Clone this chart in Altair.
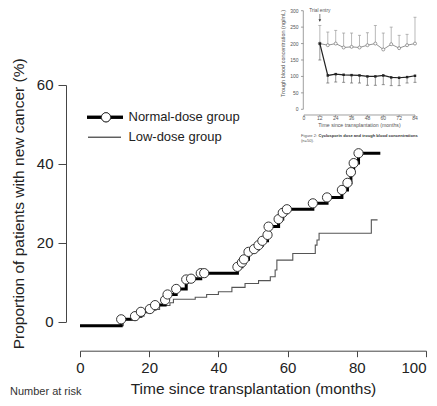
import altair as alt
import pandas as pd

# ---------------- main chart data (months, % with new cancer) ----------------
normal_x = [0, 11.9, 15.9, 17.6, 20.2, 21.7, 24.6, 25.3, 27.8, 30.7, 32.1, 34.9, 35.9,
            45.5, 46.8, 47.4, 48.7, 50.3, 51.6, 52.7, 54.2, 54.5, 57.4, 58.6, 59.8,
            67.3, 71.4, 75.7, 77.3, 78.3, 79.1, 80.5, 86.8]
normal_y = [-1, 0.6, 1.4, 2.5, 3.2, 4.2, 5.5, 6.9, 8.3, 10.7, 10.9, 12.3, 12.3,
            13.9, 15.0, 15.8, 17.7, 18.4, 19.4, 20.5, 22.0, 24.1, 26.0, 27.6, 28.5,
            30.0, 31.5, 33.4, 35.2, 37.9, 40.2, 42.7, 42.7]
low_x = [0, 12.5, 16.5, 18.5, 21.0, 23.0, 26.0, 27.0, 33.3, 36.6, 40.0, 43.9, 47.7,
         51.6, 55.0, 56.4, 56.9, 61.5, 68.0, 68.5, 69.1, 84.2, 86.0]
low_y = [-1, 0.5, 1.4, 2.4, 3.1, 4.1, 4.8, 5.7, 6.2, 6.9, 7.6, 8.7, 9.7,
         10.4, 11.4, 13.1, 15.6, 17.3, 19.4, 20.7, 22.4, 25.8, 25.8]
x_ticks = [0, 20, 40, 60, 80, 100]
y_ticks = [0, 20, 40, 60]
legend_labels = ["Normal-dose group", "Low-dose group"]

# ---------------- inset figure data (trough concentrations, ng/mL) ----------------
inset_months = [12, 18, 24, 30, 36, 42, 48, 54, 60, 66, 72, 78, 84]
normal_conc = [200, 195, 200, 188, 190, 188, 195, 200, 182, 198, 186, 195, 200]
normal_upper = [255, 235, 240, 232, 232, 225, 233, 255, 232, 250, 225, 228, 280]
low_conc = [200, 103, 107, 105, 104, 103, 100, 100, 103, 97, 96, 98, 102]
low_lower = [150, 80, 83, 82, 80, 80, 73, 73, 75, 72, 72, 80, 82]
inset_x_ticks = [0, 12, 24, 36, 48, 60, 72, 84]
inset_y_ticks = [0, 50, 100, 150, 200, 250, 300]
trial_entry_month = [12]

FONT = "Liberation Sans"

normal_df = pd.DataFrame({"t": normal_x, "p": normal_y})
circle_df = normal_df.iloc[1:-1]
low_df = pd.DataFrame({"t": low_x, "p": low_y})

xs = alt.Scale(domain=[0, 100], nice=False, zero=False)
ys = alt.Scale(domain=[0, 60], nice=False, zero=False)
x_axis = alt.Axis(values=x_ticks, offset=29, tickSize=6, labelPadding=4,
                  title="Time since transplantation (months)", titlePadding=6,
                  labelFontSize=15, titleFontSize=15.5, grid=False,
                  labelFlush=False, labelOverlap=False,
                  labelAlign=alt.expr("datum.value == 100 ? 'right' : 'center'"))
y_axis = alt.Axis(values=y_ticks, offset=14, tickSize=8, labelPadding=5,
                  title="Proportion of patients with new cancer (%)", titlePadding=10,
                  labelFontSize=15, titleFontSize=15.5, grid=False, labelFlush=False)
X = alt.X("t:Q", scale=xs, axis=x_axis)
Y = alt.Y("p:Q", scale=ys, axis=y_axis)

low_line = alt.Chart(low_df).mark_line(interpolate="step-after", color="#555555",
                                       strokeWidth=1.1).encode(x=X, y=Y)
normal_line = alt.Chart(normal_df).mark_line(interpolate="step-after", color="black",
                                             strokeWidth=3).encode(x=X, y=Y)
circles = alt.Chart(circle_df).mark_point(shape="circle", filled=True, fill="white",
                                          stroke="#333333", strokeWidth=1, size=85,
                                          opacity=1).encode(x=X, y=Y)

# legend drawn by hand
leg_df = pd.DataFrame({"label": legend_labels})
leg_line1 = alt.Chart(leg_df).mark_rule(color="black", strokeWidth=3).encode(
    x=alt.value(7), x2=alt.value(43), y=alt.value(32.3))
leg_pt = alt.Chart(leg_df).mark_point(shape="circle", filled=True, fill="white",
                                      stroke="#333333", strokeWidth=1, size=85,
                                      opacity=1).encode(x=alt.value(26), y=alt.value(32.3))
leg_line2 = alt.Chart(leg_df).mark_rule(color="#555555", strokeWidth=1.1).encode(
    x=alt.value(8), x2=alt.value(41), y=alt.value(52.3))
leg_t1 = alt.Chart(pd.DataFrame({"label": [legend_labels[0]]})).mark_text(
    align="left", baseline="middle", font=FONT, fontSize=13, color="#222222").encode(
    x=alt.value(48.5), y=alt.value(32), text="label:N")
leg_t2 = alt.Chart(pd.DataFrame({"label": [legend_labels[1]]})).mark_text(
    align="left", baseline="middle", font=FONT, fontSize=13, color="#222222").encode(
    x=alt.value(48.5), y=alt.value(52), text="label:N")
risk = alt.Chart(pd.DataFrame({"label": ["Number at risk"]})).mark_text(
    align="left", baseline="middle", font=FONT, fontSize=11, color="#333333").encode(
    x=alt.value(-70), y=alt.value(307.5), text="label:N")

main = alt.layer(low_line, normal_line, circles, leg_line1, leg_pt, leg_line2,
                 leg_t1, leg_t2, risk)

# ---------------- inset ----------------
ixs = alt.Scale(domain=[0, 84], range=[224, 335], nice=False, zero=False)
iys = alt.Scale(domain=[0, 300], range=[24.3, -74.3], nice=False, zero=False)
GRAY = "#777777"
TXT = "#555555"

ins_df = pd.DataFrame({"m": inset_months, "n": normal_conc, "nu": normal_upper,
                       "l": low_conc, "ll": low_lower})
IX = alt.X("m:Q", scale=ixs, axis=None)

n_err = alt.Chart(ins_df).mark_rule(color="#999999", strokeWidth=0.7).encode(
    x=IX, y=alt.Y("n:Q", scale=iys, axis=None), y2="nu:Q")
n_cap = alt.Chart(ins_df).mark_rule(color="#999999", strokeWidth=0.7, xOffset=-1.5,
                                    x2Offset=1.5).encode(
    x=IX, x2="m:Q", y=alt.Y("nu:Q", scale=iys, axis=None))
l_err = alt.Chart(ins_df).mark_rule(color="#666666", strokeWidth=0.7).encode(
    x=IX, y=alt.Y("l:Q", scale=iys, axis=None), y2="ll:Q")
l_cap = alt.Chart(ins_df).mark_rule(color="#666666", strokeWidth=0.7, xOffset=-1.5,
                                    x2Offset=1.5).encode(
    x=IX, x2="m:Q", y=alt.Y("ll:Q", scale=iys, axis=None))
n_line = alt.Chart(ins_df).mark_line(color=GRAY, strokeWidth=0.8).encode(
    x=IX, y=alt.Y("n:Q", scale=iys, axis=None))
n_pts = alt.Chart(ins_df).mark_point(shape="circle", filled=True, fill="white",
                                     stroke=GRAY, strokeWidth=0.7, size=9,
                                     opacity=1).encode(
    x=IX, y=alt.Y("n:Q", scale=iys, axis=None))
l_line = alt.Chart(ins_df).mark_line(color="#222222", strokeWidth=1.2).encode(
    x=IX, y=alt.Y("l:Q", scale=iys, axis=None))
l_pts = alt.Chart(ins_df).mark_point(shape="square", filled=True, color="#222222",
                                     size=6, opacity=1).encode(
    x=IX, y=alt.Y("l:Q", scale=iys, axis=None))

# inset axes
ax_df = pd.DataFrame({"a": [0]})
i_yline = alt.Chart(ax_df).mark_rule(color=GRAY, strokeWidth=0.7).encode(
    x=alt.value(223.3), y=alt.value(24.3), y2=alt.value(-74.3))
i_xline = alt.Chart(ax_df).mark_rule(color=GRAY, strokeWidth=0.7).encode(
    x=alt.value(224), x2=alt.value(335), y=alt.value(30))
xt_df = pd.DataFrame({"v": inset_x_ticks})
yt_df = pd.DataFrame({"v": inset_y_ticks})
i_xticks = alt.Chart(xt_df).mark_rule(color=GRAY, strokeWidth=0.7).encode(
    x=alt.X("v:Q", scale=ixs, axis=None), y=alt.value(30), y2=alt.value(32))
i_xlabels = alt.Chart(xt_df).mark_text(font=FONT, fontSize=5, color=TXT,
                                       baseline="top").encode(
    x=alt.X("v:Q", scale=ixs, axis=None), y=alt.value(31.5), text="v:Q")
i_yticks = alt.Chart(yt_df).mark_rule(color=GRAY, strokeWidth=0.7).encode(
    y=alt.Y("v:Q", scale=iys, axis=None), x=alt.value(221), x2=alt.value(223.3))
i_ylabels = alt.Chart(yt_df).mark_text(font=FONT, fontSize=5, color=TXT,
                                       align="right", baseline="middle").encode(
    y=alt.Y("v:Q", scale=iys, axis=None), x=alt.value(218.5), text="v:Q")
i_xtitle = alt.Chart(pd.DataFrame({"s": ["Time since transplantation (months)"]})).mark_text(
    font=FONT, fontSize=5.2, color=TXT, baseline="middle").encode(
    x=alt.value(279.5), y=alt.value(40), text="s:N")
i_ytitle = alt.Chart(pd.DataFrame({"s": ["Trough blood concentration (ng/mL)"]})).mark_text(
    font=FONT, fontSize=5.5, color=TXT, baseline="middle", angle=270).encode(
    x=alt.value(203.5), y=alt.value(-31.5), text="s:N")
te_df = pd.DataFrame({"m": trial_entry_month, "s": ["Trial entry"]})
i_te = alt.Chart(te_df).mark_text(font=FONT, fontSize=4.8, color=TXT,
                                  baseline="middle").encode(
    x=alt.X("m:Q", scale=ixs, axis=None), y=alt.value(-73.8), text="s:N")
i_te_arrow = alt.Chart(te_df).mark_rule(color="#333333", strokeWidth=0.6).encode(
    x=alt.X("m:Q", scale=ixs, axis=None), y=alt.value(-71), y2=alt.value(-66))
i_te_head = alt.Chart(te_df).mark_point(shape="triangle-down", filled=True,
                                        color="#222222", size=7, opacity=1).encode(
    x=alt.X("m:Q", scale=ixs, axis=None), y=alt.value(-64.5))
cap1 = alt.Chart(pd.DataFrame({"s": ["Figure 2:"]})).mark_text(
    font=FONT, fontSize=4.1, color=TXT, align="left", baseline="middle").encode(
    x=alt.value(221), y=alt.value(51), text="s:N")
cap2 = alt.Chart(pd.DataFrame({"s": ["Cyclosporin dose and trough blood concentrations"]})).mark_text(
    font=FONT, fontSize=4.1, fontWeight="bold", color="#333333", align="left",
    baseline="middle").encode(x=alt.value(238.5), y=alt.value(51), text="s:N")
cap3 = alt.Chart(pd.DataFrame({"s": ["(n=50)."]})).mark_text(
    font=FONT, fontSize=4.1, color=TXT, align="left", baseline="middle").encode(
    x=alt.value(221), y=alt.value(56), text="s:N")

inset = alt.layer(n_err, n_cap, l_err, l_cap, n_line, n_pts, l_line, l_pts,
                  i_yline, i_xline, i_xticks, i_xlabels, i_yticks, i_ylabels,
                  i_xtitle, i_ytitle, i_te, i_te_arrow, i_te_head, cap1, cap2, cap3)

chart = alt.layer(main, inset).resolve_scale(x="independent", y="independent").properties(
    width=346, height=236.7, autosize=alt.AutoSizeParams(type="none"),
    padding={"left": 72, "top": 77, "right": 3, "bottom": 76}
).configure_view(stroke=None).configure_axis(
    labelFont=FONT, titleFont=FONT, labelColor="#222222", titleColor="#222222",
    domainColor="#444444", tickColor="#444444", titleFontWeight="normal"
)

chart.save("out.html", embed_options={"renderer": "svg", "actions": False})
